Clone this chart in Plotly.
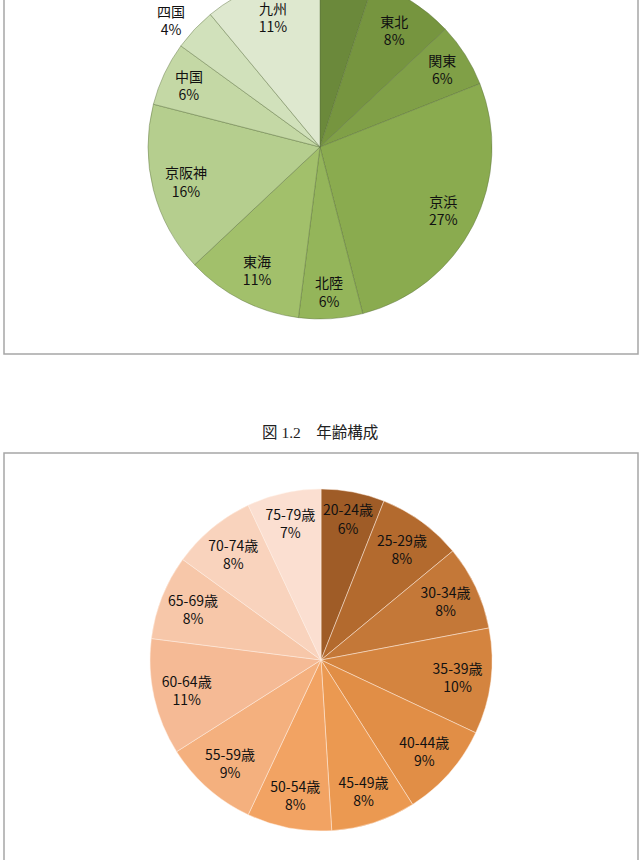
import plotly.graph_objects as go

# ---- data ----
region_labels = ["北海道", "東北", "関東", "京浜", "北陸", "東海", "京阪神", "中国", "四国", "九州"]
region_values = [5, 8, 6, 27, 6, 11, 16, 6, 4, 11]
region_colors = ["#6b893b", "#76953f", "#80a047", "#8aab4f", "#94b55a", "#a2c06b",
                 "#b5ce8e", "#c4d8a5", "#d1e1bb", "#dee8cf"]

age_labels = ["20-24歳", "25-29歳", "30-34歳", "35-39歳", "40-44歳", "45-49歳",
              "50-54歳", "55-59歳", "60-64歳", "65-69歳", "70-74歳", "75-79歳"]
age_values = [6, 8, 8, 10, 9, 8, 8, 9, 11, 8, 8, 7]
age_colors = ["#9f5c27", "#b36a2e", "#c47838", "#d4843f", "#e18e46", "#eb9951",
              "#f2a363", "#f4b07e", "#f5ba95", "#f7c7a9", "#f9d3bd", "#fbdfd1"]

caption = "図 1.2　年齢構成"

W, H = 644, 888
SHIFT = 28  # the reference view begins 28 px below the top of the figure


def px_x(x):
    return x / W


def px_y(y):
    return 1 - (y + SHIFT) / H


font_cjk = "Noto Sans CJK JP, Noto Sans, sans-serif"
LABEL_RING = 0.61  # labels sit in the outer ring of each pie
label_font = dict(family=font_cjk, size=14, color="#111111")


def add_pie(labels, values, colors, line_color, dom_x, dom_y):
    dom = dict(x=dom_x, y=dom_y)
    fig.add_trace(go.Pie(
        labels=labels, values=values, sort=False, direction="clockwise", rotation=0,
        marker=dict(colors=colors, line=dict(color=line_color, width=0.8)),
        textinfo="none", domain=dom, showlegend=False, hoverinfo="label+percent",
    ))
    # small slices get their label outside the pie, the rest inside near the rim
    positions = ["outside" if v <= 5 else "inside" for v in values]
    fig.add_trace(go.Pie(
        labels=labels, values=values, sort=False, direction="clockwise", rotation=0,
        hole=LABEL_RING,
        marker=dict(colors=["rgba(0,0,0,0)"] * len(values), line=dict(width=0)),
        texttemplate="%{label}<br>%{percent:.0%}", textposition=positions,
        insidetextorientation="horizontal",
        textfont=label_font, insidetextfont=label_font, outsidetextfont=label_font,
        domain=dom, showlegend=False, hoverinfo="skip", automargin=False,
    ))


fig = go.Figure()
add_pie(region_labels, region_values, region_colors, "rgba(90,110,60,0.55)",
        [px_x(148), px_x(492)], [px_y(319), px_y(-25)])
add_pie(age_labels, age_values, age_colors, "rgba(255,240,230,0.6)",
        [px_x(150), px_x(492)], [px_y(831), px_y(489)])

shapes = [
    dict(type="rect", xref="paper", yref="paper",
         x0=px_x(4), x1=px_x(638), y0=px_y(354), y1=px_y(-SHIFT - 5),
         line=dict(color="#a6a6a6", width=1.5), layer="below"),
    dict(type="rect", xref="paper", yref="paper",
         x0=px_x(4), x1=px_x(638), y0=px_y(875), y1=px_y(453),
         line=dict(color="#a6a6a6", width=1.5), layer="below"),
]

fig.update_layout(
    width=W, height=H, margin=dict(l=0, r=0, t=0, b=0),
    paper_bgcolor="white", plot_bgcolor="white",
    shapes=shapes,
    annotations=[dict(text=caption, x=px_x(320), y=px_y(432), xref="paper", yref="paper",
                      showarrow=False, xanchor="center", yanchor="middle",
                      font=dict(family="Liberation Serif, Noto Sans CJK JP, serif", size=15.5,
                                color="#222222"))],
    uniformtext=dict(minsize=14, mode="show"),
)

fig.write_html(
    "out.html",
    config={"displayModeBar": False},
    post_script="var d=document.getElementById('{plot_id}'); d.style.marginTop='-%dpx'; "
                "document.body.style.margin='0';" % SHIFT,
)
